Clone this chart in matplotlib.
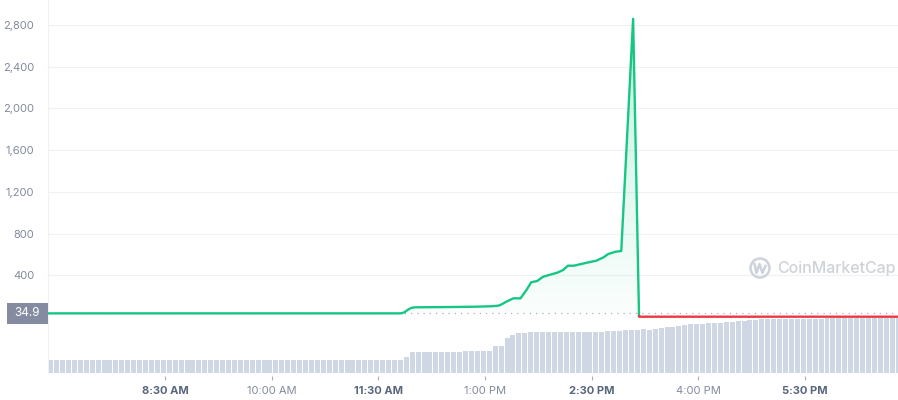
import numpy as np
import matplotlib.pyplot as plt
from matplotlib.patches import Rectangle, Circle
from matplotlib.colors import LinearSegmentedColormap
from matplotlib.transforms import blended_transform_factory
from matplotlib.lines import Line2D

plt.rcParams['font.family'] = ['Inter', 'DejaVu Sans']

# price, time in minutes after midnight
price_time = [411, 709, 712, 715, 718, 721, 745, 773, 785, 791, 793, 798, 804, 810,
              815, 819, 824, 829, 836, 841, 846, 850, 855, 860, 866, 874, 880, 884,
              890, 895, 905, 910, 1129]
price = [34.9, 34.9, 45, 70, 88, 93, 95, 99, 103, 108, 115, 147, 179, 179,
         259, 333, 345, 386, 409, 425, 451, 492, 492, 505, 521, 540, 572, 604,
         626, 633, 2860, 2.9, 2.9]
base_price = 34.9

# volume bars, one every 5 minutes
vol_start = 411.5
volume = [
    13.5, 13.5, 13.5, 13.5, 13.5, 13.5, 13.5, 13.5, 13.5, 13.5, 13.5, 13.5,
    13.5, 13.5, 13.5, 13.5, 13.5, 13.5, 13.5, 13.5, 13.5, 13.5, 13.5, 13.5,
    13.5, 13.5, 13.5, 13.5, 13.5, 13.5, 13.5, 13.5, 13.5, 13.5, 13.5, 13.5,
    13.5, 13.5, 13.5, 13.5, 13.5, 13.5, 13.5, 13.5, 13.5, 13.5, 13.5, 13.5,
    13.5, 13.5, 13.5, 13.5, 13.5, 13.5, 13.5, 13.5, 13.5, 13.5, 13.5, 13.5,
    16.5, 21.5, 21.5, 21.5, 21.5, 21.5, 21.5, 21.5, 21.5, 21.5, 22.5, 22.5,
    22.5, 22.5, 22.5, 27, 27, 35, 38, 39.7, 40.3, 41.3, 41.3, 41.3,
    41.3, 41.3, 41.3, 41.3, 41.3, 41.3, 41.3, 41.3, 41.3, 41.3, 42, 42,
    42.3, 43, 43, 43, 44, 43, 44, 45, 46, 46, 47, 48,
    48.7, 49, 49, 50, 50, 50, 51, 51, 52, 52, 53, 53,
    54, 54, 54, 54, 54, 54, 54, 54, 54, 54, 54, 55.3,
    55.3, 55.3, 55.3, 55.3, 55.3, 55.3, 55.3, 55.3, 55.3, 55.3, 55.3, 55.3,
]

tick_times = [510, 600, 690, 780, 870, 960, 1050]
tick_labels = ['8:30 AM', '10:00 AM', '11:30 AM', '1:00 PM', '2:30 PM', '4:00 PM', '5:30 PM']
tick_bold = [True, False, True, False, True, False, True]
y_ticks = [400, 800, 1200, 1600, 2000, 2400, 2800]

xlim = (411.3, 1128.5)
ylim = (-537, 3040)

fig = plt.figure(figsize=(8.98, 4), dpi=100)
rect = [48 / 898, 27 / 400, 850 / 898, 373 / 400]

# volume axis underneath
axv = fig.add_axes(rect)
bar_x = vol_start + 5 * np.arange(len(volume))
axv.bar(bar_x, volume, width=4.2, align='edge', color='#cfd6e4', linewidth=0)
axv.set_xlim(*xlim)
axv.set_ylim(0, 373)
axv.axis('off')

ax = fig.add_axes(rect)
ax.patch.set_alpha(0)
ax.set_xlim(*xlim)
ax.set_ylim(*ylim)

for s in ['top', 'right']:
    ax.spines[s].set_visible(False)
ax.spines['left'].set_color('#eff2f5')
ax.spines['bottom'].set_position(('outward', 2))
ax.spines['bottom'].set_visible(False)

ax.set_yticks(y_ticks)
ax.set_yticklabels([f'{v:,}' for v in y_ticks])
ax.tick_params(axis='y', length=0, pad=10, labelsize=8, labelcolor='#808a9d')
ax.grid(axis='y', color='#eff2f5', linewidth=0.8)
ax.set_axisbelow(True)

ax.set_xticks(tick_times)
ax.set_xticklabels(tick_labels)
ax.tick_params(axis='x', length=3, width=0.8, color='#a6b0c3', pad=4, labelsize=8)
for lab, b in zip(ax.get_xticklabels(), tick_bold):
    lab.set_fontweight('bold' if b else 'normal')
    lab.set_color('#58667e' if b else '#808a9d')

# gradient fill under the green part
pr = np.array(price)
poly = ax.fill_between(price_time, price, base_price, where=pr > base_price,
                       interpolate=True, facecolor='none', edgecolor='none')
cmap = LinearSegmentedColormap.from_list(
    'g', [(0.086, 0.78, 0.52, 0.02), (0.086, 0.78, 0.52, 0.14), (0.086, 0.78, 0.52, 0.24)])
grad = np.linspace(0, 1, 256).reshape(-1, 1)
im = ax.imshow(grad, extent=[xlim[0], xlim[1], base_price, 2900], origin='lower',
               cmap=cmap, aspect='auto', zorder=1, interpolation='bilinear')
im.set_clip_path(poly.get_paths()[0], transform=ax.transData)
ax.set_xlim(*xlim)
ax.set_ylim(*ylim)

# baseline dotted
ax.axhline(base_price, color='#a6b0c3', linewidth=0.9, linestyle=(0, (1, 4)), zorder=2)

green, = ax.plot(price_time, price, color='#16c784', linewidth=1.7, zorder=3,
                 solid_joinstyle='round')
green.set_clip_path(Rectangle((0, 18), 2000, 5000, transform=ax.transData))
red, = ax.plot(price_time, price, color='#ea3943', linewidth=1.7, zorder=3)
red.set_clip_path(Rectangle((0, -2000), 2000, 2018, transform=ax.transData))

# baseline label box
px_per_unit = 373 / (ylim[1] - ylim[0])
trans = blended_transform_factory(ax.transAxes, ax.transData)
box_h = 21 / px_per_unit
ax.add_patch(Rectangle((-41 / 850, base_price - box_h / 2), 41 / 850, box_h,
                       transform=trans, facecolor='#858ca2', edgecolor='none',
                       clip_on=False, zorder=4))
ax.text(-20.5 / 850, base_price, str(base_price), transform=trans, ha='center',
        va='center', color='white', fontsize=8.5, zorder=5, clip_on=False)

# watermark
wm = '#cdd2db'
fig.text(777 / 898, 1 - 268 / 400, 'CoinMarketCap', ha='left', va='center',
         fontsize=11.5, fontweight='medium', color=wm)
fig.add_artist(Circle((7.60, 4 - 2.68), 0.095, transform=fig.dpi_scale_trans,
                      facecolor='none', edgecolor=wm, linewidth=1.8))
fig.add_artist(Line2D([7.545, 7.565, 7.595, 7.625, 7.655],
                      [4 - 2.64, 4 - 2.73, 4 - 2.64, 4 - 2.73, 4 - 2.66],
                      transform=fig.dpi_scale_trans, color=wm, linewidth=1.8))

fig.savefig('out.png', dpi=100)
